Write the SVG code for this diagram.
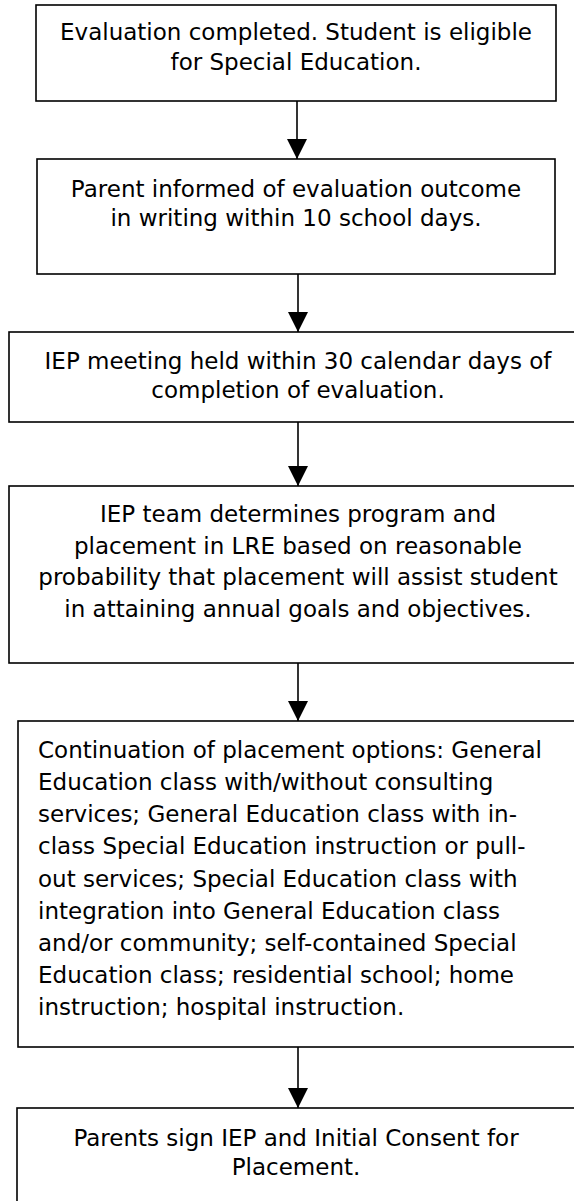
<svg xmlns="http://www.w3.org/2000/svg" width="574" height="1201" viewBox="0 0 574 1201">
<style>
.box{fill:#fff;stroke:#000;stroke-width:1.6}
.t{font-family:"DejaVu Sans",Verdana,sans-serif;font-size:23px;fill:#000}
.c{text-anchor:middle}
.conn{stroke:#000;stroke-width:1.6;fill:none}
</style>
<defs>
<marker id="ah" markerUnits="userSpaceOnUse" markerWidth="20" markerHeight="20" refX="20" refY="10" orient="auto" viewBox="0 0 20 20">
<path d="M0,0 L20,10 L0,20 Z" fill="#000"/>
</marker>
</defs>
<rect width="574" height="1201" fill="#fff"/>
<g id="connectors">
<line class="conn" x1="297" y1="101" x2="297" y2="159" marker-end="url(#ah)"/>
<line class="conn" x1="298" y1="274" x2="298" y2="332" marker-end="url(#ah)"/>
<line class="conn" x1="298" y1="422" x2="298" y2="486" marker-end="url(#ah)"/>
<line class="conn" x1="298" y1="663" x2="298" y2="721" marker-end="url(#ah)"/>
<line class="conn" x1="298" y1="1047" x2="298" y2="1108" marker-end="url(#ah)"/>
</g>
<g id="n1">
<rect class="box" x="36" y="5" width="520" height="96"/>
<text class="t c" x="296" y="40">Evaluation completed. Student is eligible</text>
<text class="t c" x="296" y="70">for Special Education.</text>
</g>
<g id="n2">
<rect class="box" x="37" y="159" width="518" height="115"/>
<text class="t c" x="296" y="197">Parent informed of evaluation outcome</text>
<text class="t c" x="296" y="226">in writing within 10 school days.</text>
</g>
<g id="n3">
<rect class="box" x="9" y="332" width="580" height="90"/>
<text class="t c" x="298" y="369">IEP meeting held within 30 calendar days of</text>
<text class="t c" x="298" y="398">completion of evaluation.</text>
</g>
<g id="n4">
<rect class="box" x="9" y="486" width="580" height="177"/>
<text class="t c" x="298" y="522">IEP team determines program and</text>
<text class="t c" x="298" y="554">placement in LRE based on reasonable</text>
<text class="t c" x="298" y="585">probability that placement will assist student</text>
<text class="t c" x="298" y="617">in attaining annual goals and objectives.</text>
</g>
<g id="n5">
<rect class="box" x="18" y="721" width="580" height="326"/>
<text class="t" x="38" y="758">Continuation of placement options: General</text>
<text class="t" x="38" y="790">Education class with/without consulting</text>
<text class="t" x="38" y="822">services; General Education class with in-</text>
<text class="t" x="38" y="854">class Special Education instruction or pull-</text>
<text class="t" x="38" y="887">out services; Special Education class with</text>
<text class="t" x="38" y="919">integration into General Education class</text>
<text class="t" x="38" y="951">and/or community; self-contained Special</text>
<text class="t" x="38" y="983">Education class; residential school; home</text>
<text class="t" x="38" y="1015">instruction; hospital instruction.</text>
</g>
<g id="n6">
<rect class="box" x="17" y="1108" width="580" height="120"/>
<text class="t c" x="296" y="1146">Parents sign IEP and Initial Consent for</text>
<text class="t c" x="296" y="1175">Placement.</text>
</g>
</svg>
